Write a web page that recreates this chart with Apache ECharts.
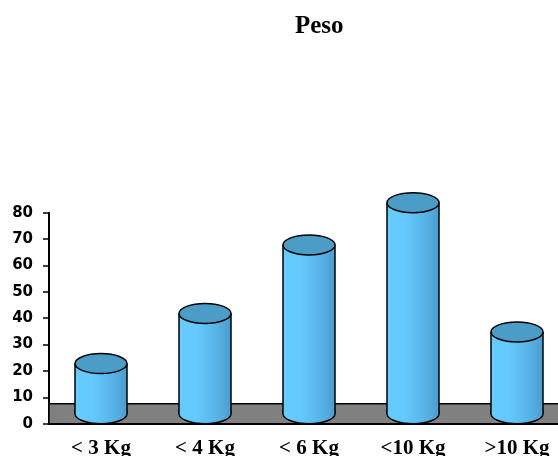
<!DOCTYPE html>
<html>
<head>
<meta charset="utf-8">
<script src="https://cdn.jsdelivr.net/npm/echarts@6/dist/echarts.min.js"></script>
<style>
  html, body { margin: 0; padding: 0; background: #fff; }
  #chart { width: 558px; height: 456px; }
</style>
</head>
<body>
<div id="chart"></div>
<script>
// Weight classes and counts
const categories = ['< 3 Kg', '< 4 Kg', '< 6 Kg', '<10 Kg', '>10 Kg'];
const values = [19, 38, 64, 80, 31];
const yTicks = { min: 0, max: 80, interval: 10 };

const chart = echarts.init(document.getElementById('chart'));

const FLOOR_DEPTH = 20;   // px depth of the grey floor slab
const RY = 10;            // vertical radius of cylinder ellipses

const bodyFill = {
  type: 'linear', x: 0, y: 0, x2: 1, y2: 0,
  colorStops: [
    { offset: 0, color: '#66ccff' },
    { offset: 0.35, color: '#64c8fb' },
    { offset: 0.6, color: '#5cbaee' },
    { offset: 0.8, color: '#55addf' },
    { offset: 1, color: '#4b9ccd' }
  ]
};

function renderFloor(params, api) {
  const cs = params.coordSys;
  const y0 = api.coord([0, 0])[1];
  return {
    type: 'rect',
    shape: { x: cs.x, y: y0 - FLOOR_DEPTH, width: cs.width + 20, height: FLOOR_DEPTH },
    style: { fill: '#808080', stroke: '#000', lineWidth: 1.5 }
  };
}

function renderCylinder(params, api) {
  const idx = api.value(0);
  const top = api.coord([idx, api.value(1)]);
  const base = api.coord([idx, 0]);
  const band = api.size([1, 0])[0];
  const rx = band / 4;
  const cx = top[0];
  const yt = top[1] - RY;
  const yb = base[1] - RY;
  return {
    type: 'group',
    children: [
      { type: 'ellipse', shape: { cx: cx, cy: yb, rx: rx, ry: RY },
        style: { fill: bodyFill, stroke: '#000', lineWidth: 1.5 } },
      { type: 'rect', shape: { x: cx - rx, y: yt, width: rx * 2, height: yb - yt },
        style: { fill: bodyFill } },
      { type: 'line', shape: { x1: cx - rx, y1: yt, x2: cx - rx, y2: yb },
        style: { stroke: '#000', lineWidth: 1.5 } },
      { type: 'line', shape: { x1: cx + rx, y1: yt, x2: cx + rx, y2: yb },
        style: { stroke: '#000', lineWidth: 1.5 } },
      { type: 'ellipse', shape: { cx: cx, cy: yt, rx: rx, ry: RY },
        style: { fill: '#4b9cc6', stroke: '#000', lineWidth: 1.5 } }
    ]
  };
}

chart.setOption({
  animation: false,
  backgroundColor: '#ffffff',
  title: {
    text: 'Peso',
    left: 295,
    top: 14,
    padding: 0,
    textStyle: { fontFamily: 'Liberation Serif', fontWeight: 'bold', fontSize: 25, color: '#000' }
  },
  grid: {
    left: 49, width: 520, top: 212.7, bottom: 32.3,
    containLabel: false,
    outerBoundsMode: 'none'
  },
  xAxis: {
    type: 'category',
    data: categories,
    boundaryGap: true,
    axisLine: { lineStyle: { color: '#000', width: 2 } },
    axisTick: { show: false },
    axisLabel: {
      margin: 14,
      fontFamily: 'Liberation Serif', fontWeight: 'bold', fontSize: 21, color: '#000'
    }
  },
  yAxis: {
    type: 'value',
    min: yTicks.min, max: yTicks.max, interval: yTicks.interval,
    splitLine: { show: false },
    axisLine: { show: true, lineStyle: { color: '#000', width: 2 } },
    axisTick: { show: true, length: 6, lineStyle: { color: '#000', width: 1.5 } },
    axisLabel: {
      margin: 16,
      fontFamily: 'DejaVu Sans', fontWeight: 'bold', fontSize: 15, color: '#000'
    }
  },
  series: [
    {
      type: 'custom',
      z: 1,
      renderItem: renderFloor,
      data: [[0]],
      clip: false,
      silent: true
    },
    {
      type: 'custom',
      z: 2,
      renderItem: renderCylinder,
      data: values.map((v, i) => [i, v]),
      encode: { x: 0, y: 1 },
      clip: false
    }
  ]
});
</script>
</body>
</html>
